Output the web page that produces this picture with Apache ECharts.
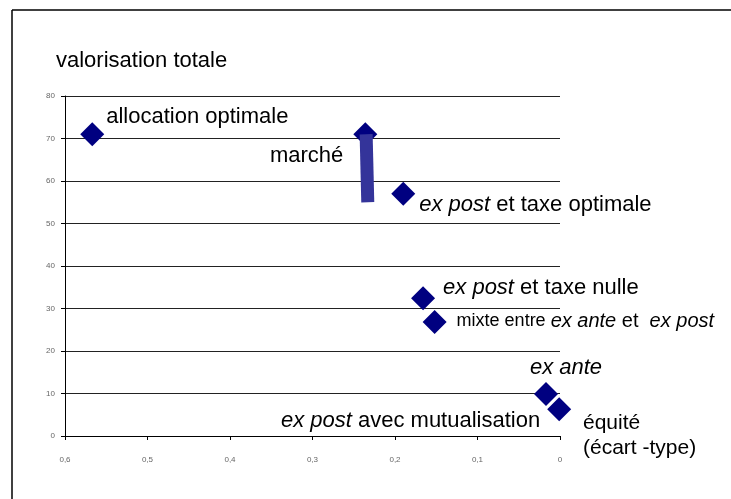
<!DOCTYPE html>
<html>
<head>
<meta charset="utf-8">
<script src="https://cdn.jsdelivr.net/npm/echarts@6/dist/echarts.min.js"></script>
<style>html,body{margin:0;padding:0;background:#fff}#c{width:731px;height:499px}</style>
</head>
<body>
<div id="c"></div>
<script>
// ---- data ----
var pointNames = ['allocation optimale','marché','ex post et taxe optimale','ex post et taxe nulle','mixte entre ex ante et ex post','ex ante','ex post avec mutualisation'];
var pointX = [0.567, 0.236, 0.19, 0.166, 0.152, 0.017, 0.001];
var pointY = [71, 71, 57, 32.4, 26.8, 9.9, 6.3];
var arrowX = [0.235, 0.233];
var arrowY = [71, 55];
var xTickLabels = ['0','0,1','0,2','0,3','0,4','0,5','0,6'];
var yTickLabels = ['0','10','20','30','40','50','60','70','80'];
var titleText = 'valorisation totale';
var xAxisName = 'équité\n(écart -type)';

var FONT = 'Liberation Sans, Arial, sans-serif';
var rich = {
  n: {fontSize: 22, fontFamily: FONT, color: '#000'},
  i: {fontSize: 22, fontFamily: FONT, color: '#000', fontStyle: 'italic'},
  s: {fontSize: 18, fontFamily: FONT, color: '#000'},
  m: {fontSize: 20, fontFamily: FONT, color: '#000'},
  mi: {fontSize: 20, fontFamily: FONT, color: '#000', fontStyle: 'italic'}
};
var labelCfg = {
  'allocation optimale': {text: '{n|allocation optimale}', offset: [14, -17], align: 'left'},
  'marché': {text: '{n|marché}', offset: [-22, 22], align: 'right'},
  'ex post et taxe optimale': {text: '{i|ex post}{n| et taxe optimale}', offset: [16, 11], align: 'left'},
  'ex post et taxe nulle': {text: '{i|ex post}{n| et taxe nulle}', offset: [20, -10], align: 'left'},
  'mixte entre ex ante et ex post': {text: '{s|mixte entre }{mi|ex ante}{m| et  }{mi|ex post}', offset: [22, -1], align: 'left'},
  'ex ante': {text: '{i|ex ante}', offset: [20, -26], align: 'center'},
  'ex post avec mutualisation': {text: '{i|ex post}{n| avec mutualisation}', offset: [-19, 12], align: 'right'}
};

var scatterData = pointNames.map(function (name, k) {
  var c = labelCfg[name];
  return {
    name: name,
    value: [pointX[k], pointY[k]],
    label: {
      show: true, position: 'inside', offset: c.offset, align: c.align,
      verticalAlign: 'middle', color: '#000', opacity: 1,
      formatter: c.text, rich: rich
    }
  };
});

var chart = echarts.init(document.getElementById('c'), null, {renderer: 'canvas'});
chart.setOption({
  animation: false,
  backgroundColor: '#fff',
  title: {
    text: titleText, left: 51, top: 45,
    textStyle: {fontSize: 22, fontWeight: 'normal', fontFamily: FONT, color: '#000'}
  },
  grid: {left: 65, right: 171, top: 96, bottom: 63, containLabel: false},
  xAxis: {
    type: 'value', inverse: true, min: 0, max: 0.6, interval: 0.1,
    name: xAxisName, nameLocation: 'start', nameGap: 23,
    nameTextStyle: {fontSize: 21, fontFamily: FONT, color: '#000', align: 'left', verticalAlign: 'middle', lineHeight: 25, padding: [20, 0, 0, 0]},
    axisLine: {show: true, onZero: false, lineStyle: {color: '#000', width: 1}},
    axisTick: {show: true, length: 4, lineStyle: {color: '#000'}},
    splitLine: {show: false},
    axisLabel: {
      margin: 20, fontSize: 8, color: '#666', fontFamily: FONT,
      formatter: function (v) { return xTickLabels[Math.round(v * 10)]; }
    }
  },
  yAxis: {
    type: 'value', min: 0, max: 80, interval: 10, position: 'left',
    axisLine: {show: true, onZero: false, lineStyle: {color: '#000', width: 1}},
    axisTick: {show: true, length: 4, lineStyle: {color: '#000'}},
    splitLine: {show: true, lineStyle: {color: '#222', width: 1}},
    axisLabel: {
      margin: 10, fontSize: 8, color: '#666', fontFamily: FONT,
      formatter: function (v) { return yTickLabels[Math.round(v / 10)]; }
    }
  },
  series: [
    {
      type: 'scatter', symbol: 'diamond', symbolSize: 24, z: 2,
      itemStyle: {color: '#000080', opacity: 1},
      emphasis: {disabled: true},
      data: scatterData,
      markLine: {
        silent: true, symbol: 'none', animation: false,
        label: {show: false},
        lineStyle: {color: '#000', width: 1, type: 'solid'},
        emphasis: {disabled: true},
        data: [{xAxis: 0.6}]
      }
    },
    {
      type: 'line', symbol: 'none', z: 3, silent: true,
      lineStyle: {color: '#34349a', width: 13, cap: 'butt', opacity: 1},
      data: arrowX.map(function (x, k) { return [x, arrowY[k]]; })
    }
  ],
  graphic: [
    {type: 'line', shape: {x1: 12, y1: 10, x2: 12, y2: 499}, style: {stroke: '#000', lineWidth: 1.5}, silent: true},
    {type: 'line', shape: {x1: 12, y1: 10, x2: 731, y2: 10}, style: {stroke: '#000', lineWidth: 1.5}, silent: true}
  ]
});
</script>
</body>
</html>
